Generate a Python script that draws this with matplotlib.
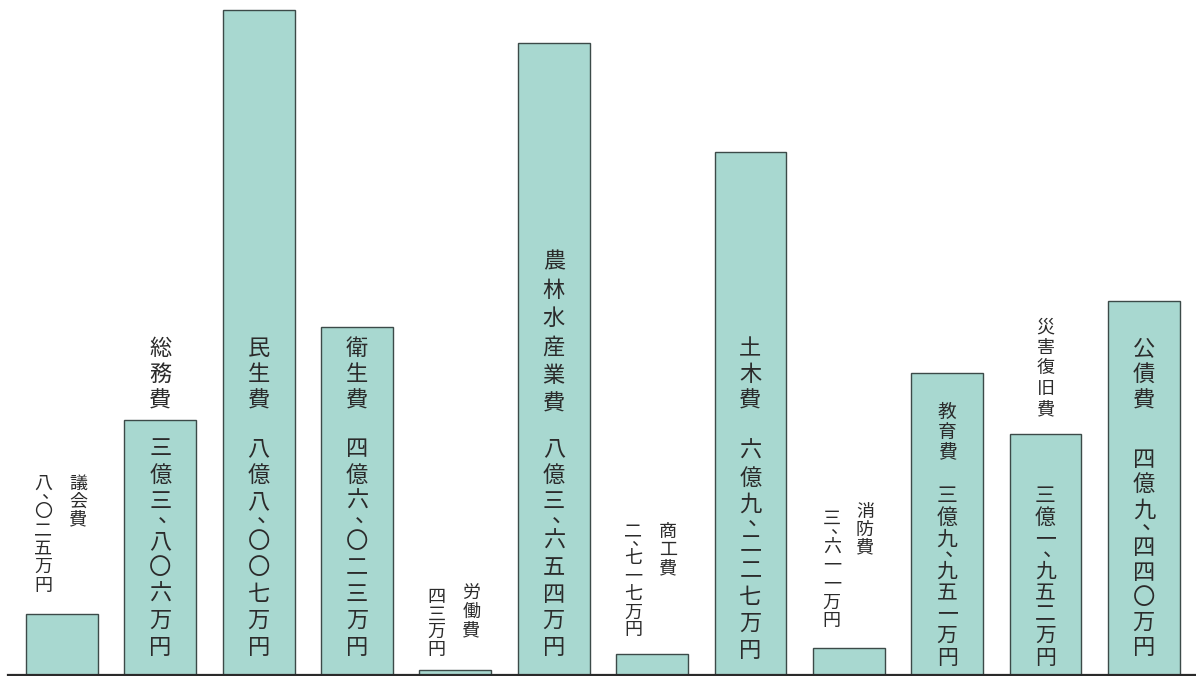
import matplotlib
matplotlib.use("Agg")
import matplotlib.pyplot as plt

plt.rcParams['font.family'] = ['Noto Sans CJK JP', 'DejaVu Sans']

# 歳出（単位：万円）
categories = ["議会費", "総務費", "民生費", "衛生費", "労働費", "農林水産業費",
              "商工費", "土木費", "消防費", "教育費", "災害復旧費", "公債費"]
values_man = [8025, 33806, 88007, 46023, 43, 83654,
              2717, 69227, 3611, 39951, 31952, 49440]

KANJI = "〇一二三四五六七八九"


def to_kanji(v):
    # 88007 -> 八億八、〇〇七万円
    oku, rest = divmod(v, 10000)
    s = ""
    if oku:
        s += "".join(KANJI[int(d)] for d in str(oku)) + "億"
    r = str(rest)
    if len(r) == 4:
        s += KANJI[int(r[0])] + "、" + "".join(KANJI[int(d)] for d in r[1:])
    else:
        s += "".join(KANJI[int(d)] for d in r)
    return s + "万円"


# label layout: top of each vertical label (億円 units), char step in px, font size
name_top = [2.65, 4.47, 4.47, 4.47, 1.19, 5.62, 2.01, 4.47, 2.28, 3.61, 4.72, 4.47]
value_top = [2.65, 3.15, 3.15, 3.15, 1.15, 3.15, 2.02, 3.11, 2.18, 2.51, 2.51, 3.00]
name_step = [18, 26, 26, 26, 18, 28.5, 18, 26, 18, 20, 20.5, 26]
value_step = [18.5, 26.5, 26.5, 26.5, 17.5, 26.5, 18, 26.5, 18.5, 21.5, 21.5, 25]
name_size = [13, 16, 16, 16, 13, 16, 13, 16, 13, 13.5, 13, 16]
value_size = [13, 16, 16, 16, 13, 16, 13, 16, 13, 15, 15, 16]
name_dx = [16, 0, 0, 0, 16, 0, 16, 0, 16, 0, 0, 0]
value_dx = [-19, 0, 0, 0, -19, 0, -19, 0, -17, 0, 0, 0]

fig = plt.figure(figsize=(11.96, 6.76), dpi=100)
ax = fig.add_axes([0, 0, 1, 1])

x = list(range(len(categories)))
# a tiny bar (労働費) is drawn at a minimum visible height, as in the original
heights = [max(v / 10000, 0.06) for v in values_man]
ax.bar(x, heights, width=0.73, color="#a8d8d0", edgecolor="#3c4a48", linewidth=1.0, zorder=2)
ax.axhline(0, xmin=8 / 1196, xmax=1, color="#2a2a2a", linewidth=1.6, zorder=3)

ax.set_xlim(-0.63, 11.53)
ax.set_ylim(-0.013, 8.933)
ax.axis("off")

PT = 72 / 100  # points per pixel


def vtext(xc, ytop, s, size, step, dx=0, color="#2b2b2b"):
    off = 0.0
    for ch in s:
        if ch == "、":
            # vertical-style comma: upper right of its cell
            ax.annotate(ch, (xc, ytop), xytext=((dx + size * 0.55) * PT, -(off - size * 0.75) * PT),
                        textcoords="offset points", ha="center", va="top",
                        fontsize=size, color=color, zorder=4)
            off += step * 0.5
            continue
        ax.annotate(ch, (xc, ytop), xytext=(dx * PT, -off * PT), textcoords="offset points",
                    ha="center", va="top", fontsize=size, color=color, zorder=4)
        off += step


for i, (name, v) in enumerate(zip(categories, values_man)):
    vtext(i, name_top[i], name, name_size[i], name_step[i], dx=name_dx[i])
    vtext(i, value_top[i], to_kanji(v), value_size[i], value_step[i], dx=value_dx[i])

fig.savefig("out.png", dpi=100)
